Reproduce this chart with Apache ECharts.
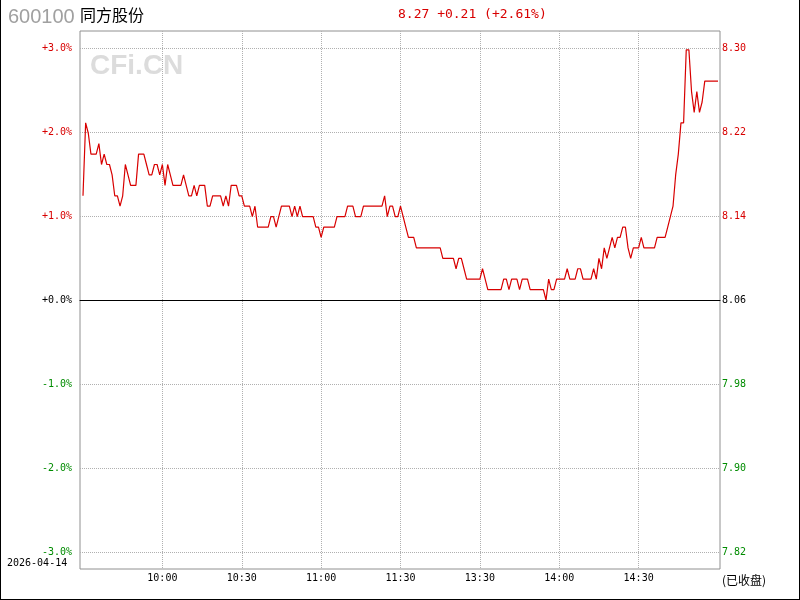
<!DOCTYPE html>
<html><head><meta charset="utf-8">
<script src="https://cdn.jsdelivr.net/npm/echarts@6/dist/echarts.min.js"></script>
<style>html,body{margin:0;padding:0;background:#fff}#c{width:800px;height:600px}</style>
</head><body><div id="c"></div>
<script>
const stockCode = '600100';
const stockName = '同方股份';
const tradeDate = '2026-04-14';
const statusText = '(已收盘)';
const watermarkText = 'CFi.CN';
const prevClose = 8.06;
const lastPrice = '8.27';
const changeAbs = '+0.21';
const changePct = '+2.61%';
const pctTickLabels = ['-3.0%', '-2.0%', '-1.0%', '+0.0%', '+1.0%', '+2.0%', '+3.0%'];
const priceTickLabels = ['7.82', '7.90', '7.98', '8.06', '8.14', '8.22', '8.30'];
const timeTickLabels = ['10:00', '10:30', '11:00', '11:30', '13:30', '14:00', '14:30'];

// minute prices, 09:30-11:30 then 13:01-15:00
const prices = [
  8.16, 8.23, 8.22, 8.20, 8.20, 8.20, 8.21, 8.19, 8.20, 8.19,
  8.19, 8.18, 8.16, 8.16, 8.15, 8.16, 8.19, 8.18, 8.17, 8.17,
  8.17, 8.20, 8.20, 8.20, 8.19, 8.18, 8.18, 8.19, 8.19, 8.18,
  8.19, 8.17, 8.19, 8.18, 8.17, 8.17, 8.17, 8.17, 8.18, 8.17,
  8.16, 8.16, 8.17, 8.16, 8.17, 8.17, 8.17, 8.15, 8.15, 8.16,
  8.16, 8.16, 8.16, 8.15, 8.16, 8.15, 8.17, 8.17, 8.17, 8.16,
  8.16, 8.15, 8.15, 8.15, 8.14, 8.15, 8.13, 8.13, 8.13, 8.13,
  8.13, 8.14, 8.14, 8.13, 8.14, 8.15, 8.15, 8.15, 8.15, 8.14,
  8.15, 8.14, 8.15, 8.14, 8.14, 8.14, 8.14, 8.14, 8.13, 8.13,
  8.12, 8.13, 8.13, 8.13, 8.13, 8.13, 8.14, 8.14, 8.14, 8.14,
  8.15, 8.15, 8.15, 8.14, 8.14, 8.14, 8.15, 8.15, 8.15, 8.15,
  8.15, 8.15, 8.15, 8.15, 8.16, 8.14, 8.15, 8.15, 8.14, 8.14,
  8.15, 8.14, 8.13, 8.12, 8.12, 8.12, 8.11, 8.11, 8.11, 8.11,
  8.11, 8.11, 8.11, 8.11, 8.11, 8.11, 8.10, 8.10, 8.10, 8.10,
  8.10, 8.09, 8.10, 8.10, 8.09, 8.08, 8.08, 8.08, 8.08, 8.08,
  8.08, 8.09, 8.08, 8.07, 8.07, 8.07, 8.07, 8.07, 8.07, 8.08,
  8.08, 8.07, 8.08, 8.08, 8.08, 8.07, 8.08, 8.08, 8.08, 8.07,
  8.07, 8.07, 8.07, 8.07, 8.07, 8.06, 8.08, 8.07, 8.07, 8.08,
  8.08, 8.08, 8.08, 8.09, 8.08, 8.08, 8.08, 8.09, 8.09, 8.08,
  8.08, 8.08, 8.08, 8.09, 8.08, 8.10, 8.09, 8.11, 8.10, 8.11,
  8.12, 8.11, 8.12, 8.12, 8.13, 8.13, 8.11, 8.10, 8.11, 8.11,
  8.11, 8.12, 8.11, 8.11, 8.11, 8.11, 8.11, 8.12, 8.12, 8.12,
  8.12, 8.13, 8.14, 8.15, 8.18, 8.20, 8.23, 8.23, 8.30, 8.30,
  8.26, 8.24, 8.26, 8.24, 8.25, 8.27, 8.27, 8.27, 8.27, 8.27, 8.27
];

function hhmm(t) { const h = Math.floor(t / 60), m = t % 60; return (h < 10 ? '0' : '') + h + ':' + (m < 10 ? '0' : '') + m; }
const times = [];
for (let t = 9 * 60 + 30; t <= 11 * 60 + 30; t++) times.push(hhmm(t));
for (let t = 13 * 60 + 1; t <= 15 * 60; t++) times.push(hhmm(t));

const RED = '#d80000', GREEN = '#008c00', GRID = '#b0b0b0';
const MONO = '"DejaVu Sans Mono", monospace';
const pctData = prices.map(p => +(((p - prevClose) / prevClose) * 100).toFixed(4));
const labelIdx = timeTickLabels.map(t => times.indexOf(t));
const colorOf = v => { v = Number(v); return v > 0.001 ? RED : (v < -0.001 ? GREEN : '#000'); };
const tickIdx = v => Math.round(Number(v)) + 3;

const chart = echarts.init(document.getElementById('c'), null, { renderer: 'canvas' });
chart.setOption({
  animation: false,
  backgroundColor: '#fff',
  grid: [
    { left: 83, right: 82, top: 48, bottom: 48 },
    { left: 80, right: 80, top: 31, bottom: 31, show: true, borderColor: '#909090', borderWidth: 1, backgroundColor: 'transparent' },
    { left: 80, right: 80, top: 48, bottom: 48 },
    { left: 83, right: 82, top: 31, bottom: 31 }
  ],
  xAxis: [
    { gridIndex: 0, type: 'category', data: times, boundaryGap: false, show: false },
    { gridIndex: 1, type: 'value', min: 0, max: 1, show: false },
    { gridIndex: 2, type: 'value', min: 0, max: 1,
      axisLine: { show: true, onZero: true, lineStyle: { color: '#000', width: 1 } },
      axisTick: { show: false }, axisLabel: { show: false }, splitLine: { show: false } },
    { gridIndex: 3, type: 'category', data: times, boundaryGap: false,
      axisLine: { show: false }, axisTick: { show: false },
      axisLabel: { interval: (i) => labelIdx.includes(i), margin: 4, color: '#000', fontFamily: MONO, fontSize: 10 },
      splitLine: { show: true, interval: (i) => labelIdx.includes(i), lineStyle: { color: GRID, width: 1, type: [1, 1] } } }
  ],
  yAxis: [
    { gridIndex: 0, type: 'value', min: -3, max: 3, interval: 1, show: false },
    { gridIndex: 1, type: 'value', min: 0, max: 1, show: false },
    { gridIndex: 2, type: 'value', position: 'left', min: -3, max: 3, interval: 1,
      axisLine: { show: false }, axisTick: { show: false },
      splitLine: { show: true, lineStyle: { color: [GRID, GRID, GRID, '#000', GRID, GRID, GRID], width: 1, type: [1, 1] } },
      axisLabel: { margin: 8, fontFamily: MONO, fontSize: 10, formatter: v => pctTickLabels[tickIdx(v)], color: colorOf } },
    { gridIndex: 2, type: 'value', position: 'right', min: -3, max: 3, interval: 1,
      axisLine: { show: false }, axisTick: { show: false }, splitLine: { show: false },
      axisLabel: { margin: 2, fontFamily: MONO, fontSize: 10, formatter: v => priceTickLabels[tickIdx(v)], color: colorOf } },
    { gridIndex: 3, type: 'value', min: 0, max: 1, show: false }
  ],
  series: [{
    type: 'line', xAxisIndex: 0, yAxisIndex: 0, data: pctData,
    showSymbol: false, symbol: 'none', z: 10,
    lineStyle: { color: RED, width: 1.2 }
  }],
  graphic: [
    { type: 'text', z: 1, style: { x: 8, y: 17, text: stockCode, font: '20px "Liberation Sans", Arial, sans-serif', fill: '#a0a0a0', textAlign: 'left', textVerticalAlign: 'middle', align: 'left', verticalAlign: 'middle' } },
    { type: 'text', z: 1, style: { x: 80, y: 15, text: stockName, font: '16px "Noto Sans CJK SC", sans-serif', fill: '#000', textAlign: 'left', textVerticalAlign: 'middle', align: 'left', verticalAlign: 'middle' } },
    { type: 'text', z: 1, style: { x: 398, y: 15, text: lastPrice + ' ' + changeAbs + ' (' + changePct + ')', font: '13px ' + MONO, fill: RED, textAlign: 'left', textVerticalAlign: 'middle', align: 'left', verticalAlign: 'middle' } },
    { type: 'text', z: 0, style: { x: 90, y: 66, text: watermarkText, font: 'bold 28px "Liberation Sans", Arial, sans-serif', fill: '#dcdcdc', textAlign: 'left', textVerticalAlign: 'middle', align: 'left', verticalAlign: 'middle' } },
    { type: 'text', z: 1, style: { x: 7, y: 563, text: tradeDate, font: '10px ' + MONO, fill: '#000', textAlign: 'left', textVerticalAlign: 'middle', align: 'left', verticalAlign: 'middle' } },
    { type: 'text', z: 1, style: { x: 722, y: 580, text: statusText, font: '12px "Noto Sans CJK SC", sans-serif', fill: '#000', textAlign: 'left', textVerticalAlign: 'middle', align: 'left', verticalAlign: 'middle' } },
    { type: 'line', z: 1, shape: { x1: 0.5, y1: 0, x2: 0.5, y2: 600 }, style: { stroke: '#000', lineWidth: 1 } },
    { type: 'line', z: 1, shape: { x1: 799.5, y1: 0, x2: 799.5, y2: 600 }, style: { stroke: '#000', lineWidth: 1 } },
    { type: 'line', z: 1, shape: { x1: 0, y1: 599.5, x2: 800, y2: 599.5 }, style: { stroke: '#000', lineWidth: 1 } }
  ]
});
</script>
</body></html>
